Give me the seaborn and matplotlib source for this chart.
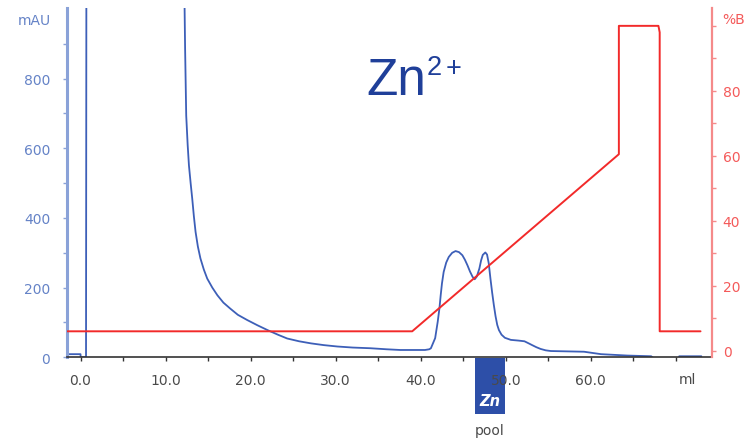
import numpy as np
import pandas as pd
import matplotlib
matplotlib.use("Agg")
import matplotlib.pyplot as plt
import seaborn as sns
from matplotlib.patches import Rectangle
from matplotlib.ticker import MultipleLocator, FixedLocator

# ---------------- data ----------------
volume_uv = [-1.6, 0.0, 0.02, 0.65, 0.7, 12.2,
             12.24, 12.3, 12.43, 12.6, 12.75, 12.95, 13.14, 13.33, 13.53, 13.8,
             14.1, 14.5, 14.9, 15.5, 16.1, 16.8, 17.6, 18.5, 19.6, 20.8,
             22.0, 23.2, 24.3, 25.7, 27.1, 28.6, 30.2, 32.0, 34.1, 36.0,
             37.6, 40.5, 41.0, 41.2, 41.7, 42.0, 42.2, 42.35, 42.5, 42.7,
             43.0, 43.3, 43.7, 44.1, 44.5, 44.9, 45.2, 45.5, 45.8, 46.1,
             46.35, 46.6, 46.9, 47.1, 47.3, 47.6, 47.8, 48.0, 48.2, 48.4,
             48.6, 48.8, 49.0, 49.2, 49.5, 49.9, 50.6, 51.5, 52.2, 52.7,
             53.1, 53.6, 54.1, 54.7, 55.3, 59.2, 61.2, 64.3, 67.1, 67.5,
             70.3, 70.4, 73.0]
uv_mau = [9, 9, 0, 0, 1300, 1300,
          1000, 885, 694, 610, 551, 500, 455, 405, 360, 318,
          284, 252, 226, 200, 178, 157, 140, 122, 107, 92,
          78, 65, 54, 46, 40, 35, 31, 28, 26, 23,
          21, 21, 23, 26, 55, 102, 140, 178, 212, 245,
          272, 288, 300, 305, 302, 293, 280, 264, 246, 231,
          224, 232, 255, 278, 294, 301, 295, 270, 226, 186,
          150, 118, 93, 78, 65, 56, 50, 48, 46, 40,
          35, 29, 24, 20, 18, 16, 9, 5, 3, -5,
          -5, 3, 3]

volume_b = [-1.6, 39.0, 63.3, 63.3, 67.95, 68.1, 68.1, 72.9]
percent_b = [6, 6, 60.5, 100, 100, 98, 6, 6]

x_ticks = [0, 10, 20, 30, 40, 50, 60]
x_tick_labels = ["0.0", "10.0", "20.0", "30.0", "40.0", "50.0", "60.0"]
left_ticks = [0, 200, 400, 600, 800]
right_ticks = [0, 20, 40, 60, 80]

uv_df = pd.DataFrame({"ml": volume_uv, "mAU": uv_mau})
b_df = pd.DataFrame({"ml": volume_b, "B": percent_b})

# ---------------- style ----------------
sns.set_theme(style="white")
plt.rcParams['font.family'] = ['DejaVu Sans']

BLUE_LINE = "#3d5fb8"
BLUE_AXIS = "#8aa2d8"
BLUE_TEXT = "#6583c7"
RED_LINE = "#f22a2a"
RED_AXIS = "#f58a8a"
RED_TEXT = "#f45a5a"
GRAY_TEXT = "#4a4a4a"
TITLE = "#1f3f99"

W, H = 751, 439
fig = plt.figure(figsize=(W / 100, H / 100), dpi=100)
fig.patch.set_facecolor("white")

left_px, right_px, top_px, bot_px = 67, 711.7, 9.3, 358.3
ax = fig.add_axes([left_px / W, 1 - bot_px / H, (right_px - left_px) / W, (bot_px - top_px) / H])
ax2 = ax.twinx()

sns.lineplot(data=uv_df, x="ml", y="mAU", ax=ax, sort=False, estimator=None,
             color=BLUE_LINE, linewidth=1.3)
sns.lineplot(data=b_df, x="ml", y="B", ax=ax2, sort=False, estimator=None,
             color=RED_LINE, linewidth=1.4)

x0_px, px_per_ml = 80.5, 8.505
ax.set_xlim((left_px - x0_px) / px_per_ml, (right_px - x0_px) / px_per_ml)
ax.set_ylim(0, 1002)
ax2.set_ylim(-2.0, 105.4)

ax.set_xlabel("")
ax.set_ylabel("")
ax2.set_ylabel("")

# spines
for s in ["top", "right"]:
    ax.spines[s].set_visible(False)
ax.spines["left"].set_color(BLUE_AXIS)
ax.spines["left"].set_linewidth(2.2)
ax.spines["bottom"].set_color("#333333")
ax.spines["bottom"].set_linewidth(1.2)
for s in ["top", "left", "bottom"]:
    ax2.spines[s].set_visible(False)
ax2.spines["right"].set_color(RED_AXIS)
ax2.spines["right"].set_linewidth(1.6)

# x ticks
ax.xaxis.set_major_locator(FixedLocator(x_ticks + [70]))
ax.set_xticklabels(x_tick_labels + [""])
ax.xaxis.set_minor_locator(MultipleLocator(5))
ax.tick_params(axis="x", which="both", direction="out", length=3, width=1,
               color="#333333", labelcolor=GRAY_TEXT, labelsize=10, pad=8.5,
               bottom=True)

# left ticks
ax.yaxis.set_major_locator(FixedLocator(left_ticks))
ax.yaxis.set_minor_locator(FixedLocator([100, 300, 500, 700, 900]))
ax.tick_params(axis="y", which="both", direction="out", length=3, width=1,
               color=BLUE_AXIS, labelcolor=BLUE_TEXT, labelsize=10, pad=9, left=True)

# right ticks
ax2.yaxis.set_major_locator(FixedLocator(right_ticks))
ax2.yaxis.set_minor_locator(FixedLocator([10, 30, 50, 70, 90, 100]))
ax2.tick_params(axis="y", which="both", direction="out", length=3, width=1,
                color=RED_AXIS, labelcolor=RED_TEXT, labelsize=10, pad=5, right=True)

# axis unit labels
fig.text(50.7 / W, 1 - 21 / H, "mAU", color=BLUE_TEXT, fontsize=10, ha="right", va="center")
fig.text(722 / W, 1 - 20 / H, "%B", color=RED_TEXT, fontsize=10, ha="left", va="center")
fig.text(687 / W, 1 - 380 / H, "ml", color=GRAY_TEXT, fontsize=10, ha="center", va="center")

# title Zn2+
fig.text(366 / W, 1 - 95 / H, "Zn", color=TITLE, fontsize=37,
         family="Liberation Sans", ha="left", va="baseline")
fig.text(426.5 / W, 1 - 75 / H, "2", color=TITLE, fontsize=19.5,
         family="Liberation Sans", ha="left", va="baseline")
fig.text(445.5 / W, 1 - 75.5 / H, "+", color=TITLE, fontsize=19.5,
         family="Liberation Sans", ha="left", va="baseline")

# pool marker
fig.add_artist(Rectangle((475 / W, 1 - 415 / H), 30 / W, 56 / H,
                         transform=fig.transFigure, facecolor="#2d4fa8",
                         edgecolor="none", zorder=-1))
fig.text(490 / W, 1 - 402 / H, "Zn", color="white", fontsize=10.5, style="italic",
         fontweight="bold", ha="center", va="center")
fig.text(490 / W, 1 - 431 / H, "pool", color=GRAY_TEXT, fontsize=10,
         ha="center", va="center")

fig.savefig("out.png", dpi=100, facecolor="white")
